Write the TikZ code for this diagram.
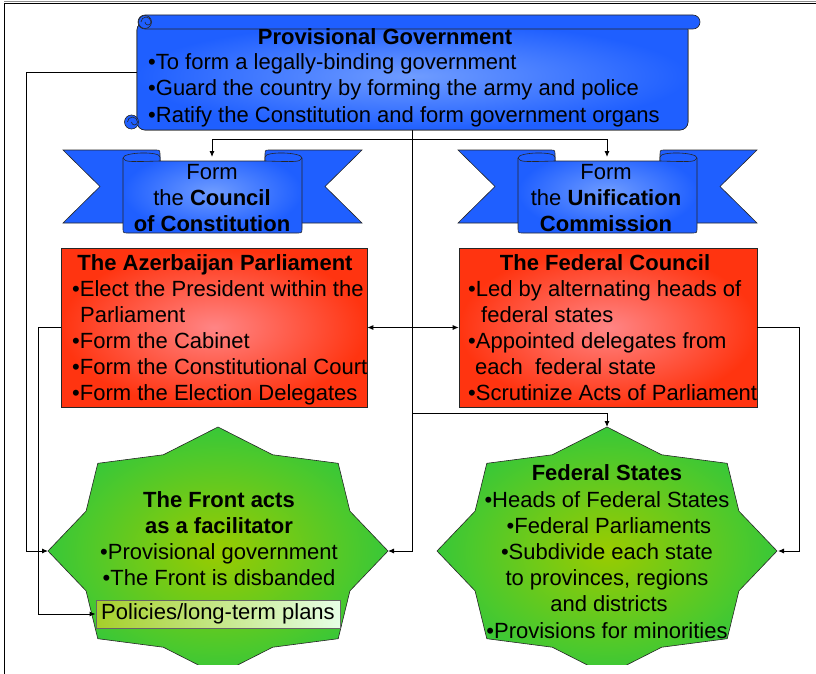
\documentclass[tikz,border=0pt]{standalone}
\usepackage{fontspec}
\setmainfont{Liberation Sans}
\usetikzlibrary{arrows.meta}
\definecolor{bD}{HTML}{1F5FFF}
\definecolor{bL}{HTML}{6F9CFF}
\definecolor{rD}{HTML}{FF3410}
\definecolor{rL}{HTML}{FF8585}
\definecolor{gD}{HTML}{38C838}
\definecolor{gL}{HTML}{9ACB00}
\definecolor{pL}{HTML}{A5CF2A}
\definecolor{pR}{HTML}{E6FFE6}
\tikzset{
  txt/.style={font=\fontsize{22}{26}\selectfont, inner sep=0pt},
  ttl/.style={font=\fontsize{22}{26}\selectfont\bfseries, inner sep=0pt},
  conn/.style={line width=0.9pt, draw=black},
  arr/.style={conn, -{Latex[length=6pt,width=5pt]}},
  arrb/.style={conn, {Latex[length=6pt,width=5pt]}-{Latex[length=6pt,width=5pt]}},
  outl/.style={draw=black!85, line width=0.6pt},
  redbox/.style={outl, inner color=rL, outer color=rD, minimum width=#1, minimum height=159pt, inner sep=0pt},
}
\newcommand\myribbon{%
  \draw[outl, fill=bD] (63,150) -- (155,150) .. controls (160,150) .. (160,155) -- (160,223) -- (63,223) -- (100,186.5) -- cycle;
  \draw[outl, fill=bD] (362,150) -- (270,150) .. controls (265,150) .. (265,155) -- (265,223) -- (362,223) -- (325,186.5) -- cycle;
  \shade[outl, inner color=bL, outer color=bD]
    (123,228) -- (123,158) .. controls (123,152) and (160,151) .. (160,157) -- (160,161) -- (265,161) -- (265,157)
    .. controls (265,151) and (302,152) .. (302,158) -- (302,228) .. controls (302,233) .. (297,233)
    -- (128,233) .. controls (123,233) .. (123,228) -- cycle;
  \draw[outl] (123,158) .. controls (126,162) .. (160,161);
  \draw[outl] (265,161) .. controls (299,162) .. (302,158);
}
\newcommand\mystar[1]{%
  \shade[outl, inner color=gL, outer color=gD] ({#1+170},551)
    \foreach \i in {1,...,15} { -- ({#1+170*(1-0.16*mod(\i,2))*cos(22.5*\i)}, {551-124*(1-0.16*mod(\i,2))*sin(22.5*\i)}) } -- cycle;
}
\begin{document}
\begin{tikzpicture}[x=1pt,y=-1pt]
\useasboundingbox (0,0) rectangle (816,674);
% frame
\draw[black!45, line width=1pt] (4,2) -- (816,2);
\draw[black, line width=1pt] (4,3.5) -- (816,3.5);
\draw[black, line width=1pt] (4.5,3) -- (4.5,674);

% ---------- boxes used as connector ends ----------
\node[outl, rounded corners=8pt, inner color=bL, outer color=bD, minimum width=551pt, minimum height=108pt, inner sep=0pt] (pg) at (412.5,76) {};
\node[redbox=306pt] (parl) at (214,327.5) {};
\node[redbox=298pt] (fc) at (608,327.5) {};

\coordinate (frontL) at (48,551);
\coordinate (frontR) at (388,551);
\coordinate (fsR) at (778,551);
\coordinate (fsT) at (607,427);
\coordinate (ccT) at (212,157);
\coordinate (ucT) at (607,157);

\draw[arr] ([yshift=4pt]pg.west) -- ++(-110,0) |- (frontL);
\draw[arr] (pg.south) |- (frontR);
\draw[arr] ([yshift=-9pt]pg.south) -| (ccT);
\draw[arr] ([yshift=-9pt]pg.south) -| (ucT);
\draw[arr] ([yshift=-283pt]pg.south) -| (fsT);
\draw[arrb] (parl.east) -- (fc.west);
\draw[arr] (fc.east) -- ++(42,0) |- (fsR);

% ---------- provisional government scroll ----------
\node[outl, rounded corners=8pt, inner color=bL, outer color=bD, minimum width=551pt, minimum height=108pt, inner sep=0pt] (pgb) at (412.5,76) {};
\draw[outl, fill=bD, rounded corners=7pt] (138,15) rectangle (700,29);
\draw[outl, fill=bD] (145,22) circle (6.5);
\draw[outl] (145,22) arc[start angle=180, end angle=0, radius=3] arc[start angle=0, end angle=-180, radius=5];
\draw[outl, fill=bD] (131.5,122) circle (7);
\draw[outl] (131.5,122) arc[start angle=180, end angle=0, radius=3] arc[start angle=0, end angle=-180, radius=5];
\node[ttl, anchor=base] (pgT) at (385,45) {Provisional Government};
\node[txt, anchor=base west] (pg1) at (148,70) {•To form a legally-binding government};
\node[txt, anchor=base west] (pg2) at (148,96) {•Guard the country by forming the army and police};
\node[txt, anchor=base west] (pg3) at (148,122) {•Ratify the Constitution and form government organs};

% ---------- ribbons ----------
\myribbon
\begin{scope}[xshift=395pt]
\myribbon
\end{scope}
\node[txt, anchor=base] (cc1) at (212,179) {Form};
\node[txt, anchor=base] (cc2) at (212,205) {the \textbf{Council}};
\node[ttl, anchor=base] (cc3) at (212,231) {of Constitution};
\node[txt, anchor=base] (uc1) at (606,179) {Form};
\node[txt, anchor=base] (uc2) at (606,205) {the \textbf{Unification}};
\node[ttl, anchor=base] (uc3) at (606,231) {Commission};

% ---------- red boxes text ----------
\node[ttl, anchor=base] (parlT) at (215,270) {The Azerbaijan Parliament};
\node[txt, anchor=base west] (parl1) at (72,296) {•Elect the President within the};
\node[txt, anchor=base west] (parl2) at (80,322) {Parliament};
\node[txt, anchor=base west] (parl3) at (72,348) {•Form the Cabinet};
\node[txt, anchor=base west] (parl4) at (72,374) {•Form the Constitutional Court};
\node[txt, anchor=base west] (parl5) at (72,400) {•Form the Election Delegates};

\node[ttl, anchor=base] (fcT) at (605,270) {The Federal Council};
\node[txt, anchor=base west] (fc1) at (468,296) {•Led by alternating heads of};
\node[txt, anchor=base west] (fc2) at (481,322) {federal states};
\node[txt, anchor=base west] (fc3) at (468,348) {•Appointed delegates from};
\node[txt, anchor=base west] (fc4) at (475,374) {each\ \ federal state};
\node[txt, anchor=base west] (fc5) at (468,400) {•Scrutinize Acts of Parliament};

% ---------- stars ----------
\begin{scope}
\clip (0,0) rectangle (816,664);
\mystar{218}
\mystar{607}
\end{scope}
\node[ttl, anchor=base] (frT1) at (219,507) {The Front acts};
\node[ttl, anchor=base] (frT2) at (219,533) {as a facilitator};
\node[txt, anchor=base] (fr1) at (219,559) {•Provisional government};
\node[txt, anchor=base] (fr2) at (219,585) {•The Front is disbanded};
\node[draw=black!60, line width=0.8pt, left color=pL, right color=pR, minimum width=244pt, minimum height=28pt, inner sep=0pt, font=\fontsize{22}{26}\selectfont] (pol) at (218,614) {Policies/long-term plans};
\draw[arr] (parl.west) -- ++(-22,0) |- (pol.west);

\node[ttl, anchor=base] (fsT0) at (607,480) {Federal States};
\node[txt, anchor=base] (fs1) at (607,507) {•Heads of Federal States};
\node[txt, anchor=base] (fs2) at (609,533) {•Federal Parliaments};
\node[txt, anchor=base] (fs3) at (607,559) {•Subdivide each state};
\node[txt, anchor=base] (fs4) at (607,585) {to provinces, regions};
\node[txt, anchor=base] (fs5) at (609,611) {and districts};
\node[txt, anchor=base] (fs6) at (607,638) {•Provisions for minorities};
\end{tikzpicture}
\end{document}
